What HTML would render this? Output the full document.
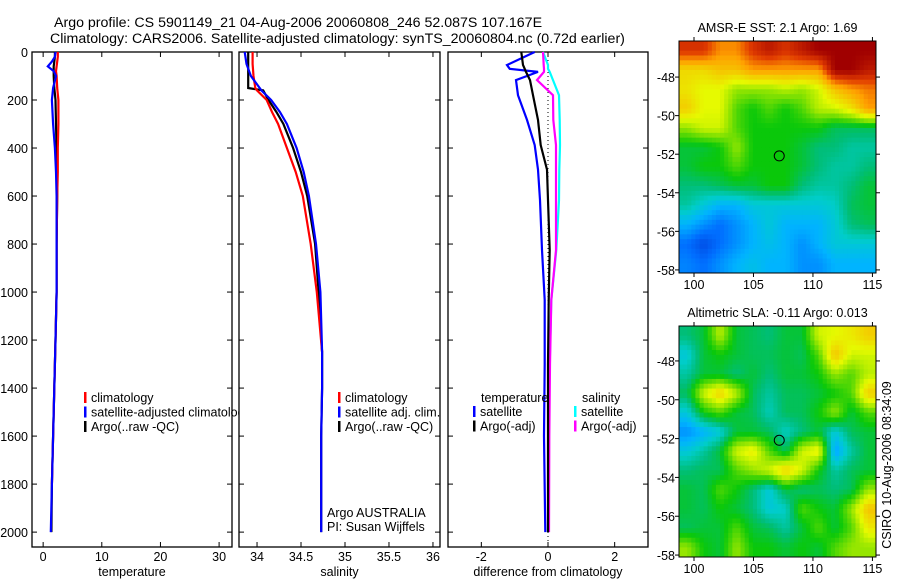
<!DOCTYPE html>
<html><head><meta charset="utf-8"><style>
html,body{margin:0;padding:0;background:#fff;}
svg{display:block;font-family:"Liberation Sans",sans-serif;}
text{font-size:12.5px;fill:#000;}
</style></head><body>
<svg id="fig" width="900" height="580" viewBox="0 0 900 580">
<text x="54" y="27" style="font-size:14.2px">Argo profile: CS 5901149_21 04-Aug-2006 20060808_246 52.087S 107.167E</text>
<text x="50" y="43" style="font-size:14.2px">Climatology: CARS2006. Satellite-adjusted climatology: synTS_20060804.nc (0.72d earlier)</text>
<g id="g1"></g>
<g id="g2"></g>
<g id="g3"></g>
<g id="m1"></g>
<g id="m2"></g>
<text transform="translate(891,465) rotate(-90)" text-anchor="middle">CSIRO 10-Aug-2006 08:34:09</text>
</svg>
<script>
const depths=[0,20,40,60,80,100,150,200,300,400,500,600,800,1000,1200,1400,1600,1800,2000];
const tempClim=[2.5,2.5,2.4,2.3,2.2,2.3,2.4,2.6,2.6,2.5,2.5,2.4,2.3,2.3,2.1,1.9,1.7,1.5,null];
const tempSat=[2.1,2.0,1.5,0.8,1.8,2.2,1.7,1.5,1.7,2.0,2.2,2.3,2.3,2.3,2.1,1.9,1.7,1.5,1.3];
const tempArgo=[2.0,2.0,1.9,1.8,1.8,1.8,1.9,2.1,2.2,2.3,2.4,2.4,2.3,2.3,2.1,1.9,1.7,1.5,1.4];
const salDepths=[0,50,100,150,160,200,250,300,400,500,600,800,1000,1250,1400,1600,1800,2000];
const salClim=[33.95,33.95,33.96,33.98,34.0,34.11,34.17,34.24,34.34,34.44,34.52,34.61,34.68,34.74,null,null,null,null];
const salSat=[33.86,33.88,33.93,34.03,34.05,34.16,34.26,34.34,34.45,34.53,34.59,34.67,34.72,34.74,34.74,34.73,34.73,34.73];
const salArgo=[33.90,33.90,33.90,33.90,34.07,34.13,34.22,34.30,34.41,34.50,34.57,34.66,34.70,34.74,34.74,34.73,34.73,34.73];
const diffDepths=[0,54,70,83,117,180,283,388,490,617,825,1033,1300,1600,2000];
const dTempSat=[-0.4,-1.23,-1.15,-0.3,-0.96,-0.9,-0.63,-0.4,-0.3,-0.24,-0.18,-0.1,-0.1,-0.12,-0.08];
const dTempArgo=[-0.8,-0.75,-0.7,-0.66,-0.54,-0.45,-0.3,-0.22,-0.03,0.0,0.05,0.02,0.0,0.0,0.0];
const dSalArgo=[-0.15,-0.13,-0.12,-0.12,-0.33,0.15,0.16,0.24,0.24,0.24,0.24,0.1,0.06,0.04,0.03];
const dSalSat=[-0.15,0.0,0.0,0.05,0.15,0.33,0.35,0.36,0.34,0.33,0.25,0.1,0.05,0.02,0.0];
const yTicks=[0,200,400,600,800,1000,1200,1400,1600,1800,2000];
const tTicks=[0,10,20,30], sTicks=[34,34.5,35,35.5,36], dTicks=[-2,0,2];
const sstGrid=[
[0.9,0.9,0.8,0.8,0.9,0.95,0.9,0.95,1,1,1,1],
[0.68,0.68,0.72,0.72,0.78,0.78,0.78,0.78,0.78,1,1,0.95],
[0.66,0.62,0.62,0.55,0.55,0.55,0.58,0.55,0.6,0.72,0.78,0.82],
[0.7,0.62,0.62,0.5,0.45,0.5,0.45,0.5,0.58,0.6,0.66,0.78],
[0.55,0.6,0.6,0.5,0.45,0.45,0.45,0.45,0.45,0.4,0.4,0.4],
[0.42,0.42,0.45,0.55,0.45,0.45,0.45,0.42,0.38,0.38,0.35,0.35],
[0.42,0.45,0.45,0.5,0.45,0.45,0.45,0.42,0.38,0.35,0.35,0.38],
[0.38,0.38,0.4,0.42,0.42,0.45,0.45,0.38,0.35,0.35,0.38,0.42],
[0.35,0.3,0.25,0.25,0.3,0.3,0.3,0.3,0.3,0.32,0.4,0.42],
[0.25,0.2,0.15,0.2,0.25,0.3,0.25,0.25,0.25,0.3,0.38,0.4],
[0.15,0.08,0.15,0.2,0.25,0.28,0.25,0.2,0.25,0.3,0.3,0.3],
[0.18,0.15,0.2,0.25,0.28,0.25,0.25,0.2,0.2,0.25,0.25,0.25]];
const slaGrid=[
[0.38,0.42,0.58,0.42,0.4,0.38,0.42,0.42,0.6,0.62,0.65,0.7],
[0.3,0.42,0.45,0.42,0.4,0.4,0.42,0.4,0.5,0.72,0.6,0.6],
[0.35,0.42,0.42,0.38,0.42,0.38,0.42,0.42,0.45,0.55,0.5,0.58],
[0.4,0.6,0.7,0.58,0.4,0.35,0.4,0.4,0.42,0.45,0.5,0.7],
[0.3,0.45,0.5,0.42,0.4,0.33,0.4,0.4,0.45,0.55,0.42,0.5],
[0.2,0.25,0.3,0.42,0.42,0.4,0.32,0.38,0.42,0.3,0.4,0.42],
[0.3,0.35,0.42,0.6,0.65,0.5,0.4,0.6,0.65,0.22,0.35,0.42],
[0.38,0.4,0.4,0.5,0.55,0.6,0.7,0.6,0.45,0.35,0.4,0.42],
[0.42,0.4,0.5,0.45,0.38,0.3,0.42,0.38,0.4,0.38,0.4,0.55],
[0.42,0.4,0.45,0.42,0.38,0.3,0.32,0.5,0.45,0.42,0.55,0.72],
[0.4,0.42,0.42,0.5,0.42,0.4,0.35,0.42,0.5,0.42,0.5,0.65],
[0.55,0.45,0.42,0.55,0.45,0.45,0.42,0.45,0.42,0.5,0.55,0.55]];
const lonTicks=[100,105,110,115], latTicks=[-48,-50,-52,-54,-56,-58];
const argoLon=107.167, argoLat=-52.087;

const NS='http://www.w3.org/2000/svg';
function el(p,t,a){const e=document.createElementNS(NS,t);for(const k in a)e.setAttribute(k,a[k]);p.appendChild(e);return e;}
const Y0=52,Y1=547,DMAX=2062;
const yS=d=>Y0+d/DMAX*(Y1-Y0);
function panel(g,x0,x1,dom,ticks,label,ylabels){
  const xS=v=>x0+(v-dom[0])/(dom[1]-dom[0])*(x1-x0);
  const r=el(g,'rect',{x:x0,y:Y0,width:x1-x0,height:Y1-Y0,fill:'#fff',stroke:'#000','stroke-width':1.3});
  
  
  ticks.forEach(t=>{const x=xS(t);
    el(g,'line',{x1:x,x2:x,y1:Y0,y2:Y0+5,stroke:'#000'});el(g,'line',{x1:x,x2:x,y1:Y1,y2:Y1-5,stroke:'#000'});
    const tx=el(g,'text',{x:x,y:Y1+14,'text-anchor':'middle'});tx.textContent=t;
    
    });
  yTicks.forEach(d=>{const y=yS(d);
    el(g,'line',{x1:x0,x2:x0+5,y1:y,y2:y,stroke:'#000'});el(g,'line',{x1:x1,x2:x1-5,y1:y,y2:y,stroke:'#000'});
    if(ylabels){const tx=el(g,'text',{x:x0-4,y:y+5,'text-anchor':'end'});tx.textContent=d;
      
      }});
  const lt=el(g,'text',{x:(x0+x1)/2,y:Y1+29,'text-anchor':'middle'});lt.textContent=label;
  
  
  return xS;
}
function line(g,xS,ds,vs,col,name,w){
  let d='',first=true;
  vs.forEach((v,i)=>{if(v===null)return;d+=(first?'M':'L')+xS(v).toFixed(1)+','+yS(ds[i]).toFixed(1);first=false;});
  const p=el(g,'path',{d:d,fill:'none',stroke:col,'stroke-width':w||2.2});
  
  
}
function legend(g,x,y,items){items.forEach((it,i)=>{
  el(g,'rect',{x:x,y:y+i*14.5-10,width:2.5,height:11,fill:it[0]});
  const t=el(g,'text',{x:x+7,y:y+i*14.5});t.textContent=it[1];
  
  });}

const g1=document.getElementById('g1'),g2=document.getElementById('g2'),g3=document.getElementById('g3');
const x1s=panel(g1,32,232,[-1.9,32.2],tTicks,'temperature',true);
line(g1,x1s,depths,tempArgo,'#000','argo-temperature-line');
line(g1,x1s,depths,tempClim,'#f00','climatology-temperature-line');
line(g1,x1s,depths,tempSat,'#00f','satellite-temperature-line');
legend(g1,84,402,[['#f00','climatology'],['#00f','satellite-adjusted climatology'],['#000','Argo(..raw -QC)']]);
const x2s=panel(g2,239,440,[33.795,36.08],sTicks,'salinity',false);
line(g2,x2s,salDepths,salArgo,'#000','argo-salinity-line');
line(g2,x2s,salDepths,salClim,'#f00','climatology-salinity-line');
line(g2,x2s,salDepths,salSat,'#00f','satellite-salinity-line');
legend(g2,338,402,[['#f00','climatology'],['#00f','satellite adj. clim.'],['#000','Argo(..raw -QC)']]);
const a1=el(g2,'text',{x:327,y:517});a1.textContent='Argo AUSTRALIA';


const a2=el(g2,'text',{x:327,y:531});a2.textContent='PI: Susan Wijffels';


const x3s=panel(g3,448,648,[-3,3],dTicks,'difference from climatology',false);
el(g3,'line',{x1:x3s(0),x2:x3s(0),y1:Y0,y2:Y1,stroke:'#000','stroke-dasharray':'1,3'});
line(g3,x3s,diffDepths,dSalSat,'#0ff','satellite-salinity-diff-line');
line(g3,x3s,diffDepths,dSalArgo,'#f0f','argo-salinity-diff-line');
line(g3,x3s,diffDepths,dTempSat,'#00f','satellite-temperature-diff-line');
line(g3,x3s,diffDepths,dTempArgo,'#000','argo-temperature-diff-line');
const lh1=el(g3,'text',{x:481,y:402});lh1.textContent='temperature';


const lh2=el(g3,'text',{x:582,y:402});lh2.textContent='salinity';


legend(g3,473,416,[['#00f','satellite'],['#000','Argo(-adj)']]);
legend(g3,574,416,[['#0ff','satellite'],['#f0f','Argo(-adj)']]);

const cmapStops=[[0,[0,40,200]],[0.15,[0,110,255]],[0.25,[0,180,255]],[0.32,[0,205,200]],[0.38,[0,190,120]],[0.45,[10,200,10]],[0.55,[150,230,0]],[0.62,[230,250,0]],[0.78,[255,160,0]],[0.88,[225,60,0]],[1,[160,0,0]]];
function cmap(v){v=Math.max(0,Math.min(1,v));
  for(let i=1;i<cmapStops.length;i++){const a=cmapStops[i-1],b=cmapStops[i];
    if(v<=b[0]){const f=(v-a[0])/(b[0]-a[0]);return 'rgb('+a[1].map((c,k)=>Math.round(c+(b[1][k]-c)*f)).join(',')+')';}}
  return 'rgb(160,0,0)';}
function sample(grid,r,c){const nr=grid.length,nc=grid[0].length;
  r=Math.max(0,Math.min(nr-1,r));c=Math.max(0,Math.min(nc-1,c));
  const r0=Math.floor(r),c0=Math.floor(c),r1=Math.min(nr-1,r0+1),c1=Math.min(nc-1,c0+1),fr=r-r0,fc=c-c0;
  return grid[r0][c0]*(1-fr)*(1-fc)+grid[r0][c1]*(1-fr)*fc+grid[r1][c0]*fr*(1-fc)+grid[r1][c1]*fr*fc;}
function map(g,top,bottom,latTop,latBot,grid,title){
  const L=679,R=876,lon0=98.74,lon1=115.3;
  const xS=v=>L+(v-lon0)/(lon1-lon0)*(R-L), yM=v=>top+(latTop-v)/(latTop-latBot)*(bottom-top);
  const nr=grid.length,nc=grid[0].length,S=4,cw=(R-L)/(nc*S),ch=(bottom-top)/(nr*S);
  for(let i=0;i<nr*S;i++)for(let j=0;j<nc*S;j++){
    const v=sample(grid,(i+0.5)/S-0.5,(j+0.5)/S-0.5);
    const c=el(g,'rect',{x:(L+j*cw).toFixed(2),y:(top+i*ch).toFixed(2),width:(cw+0.5).toFixed(2),height:(ch+0.5).toFixed(2),fill:cmap(v)});
    
    }
  el(g,'rect',{x:L,y:top,width:R-L,height:bottom-top,fill:'none',stroke:'#000'});
  lonTicks.forEach(t=>{const x=xS(t);el(g,'line',{x1:x,x2:x,y1:top,y2:top-4,stroke:'#000'});el(g,'line',{x1:x,x2:x,y1:bottom,y2:bottom+4,stroke:'#000'});
    const tx=el(g,'text',{x:x,y:bottom+16,'text-anchor':'middle'});tx.textContent=t;
    
    });
  latTicks.forEach(t=>{const y=yM(t);el(g,'line',{x1:L,x2:L-4,y1:y,y2:y,stroke:'#000'});el(g,'line',{x1:R,x2:R+4,y1:y,y2:y,stroke:'#000'});
    const tx=el(g,'text',{x:L-4,y:y+5,'text-anchor':'end'});tx.textContent=t;
    
    });
  const m=el(g,'circle',{cx:xS(argoLon),cy:yM(argoLat),r:5,fill:'none',stroke:'#000'});
  
  
  const tt=el(g,'text',{x:(L+R)/2,y:top-9,'text-anchor':'middle'});tt.textContent=title;
  
  
}
map(document.getElementById('m1'),41,273,-46.13,-58.16,sstGrid,'AMSR-E SST: 2.1 Argo: 1.69');
map(document.getElementById('m2'),326,557,-46.2,-58.1,slaGrid,'Altimetric SLA: -0.11 Argo: 0.013');
</script>
</body></html>
